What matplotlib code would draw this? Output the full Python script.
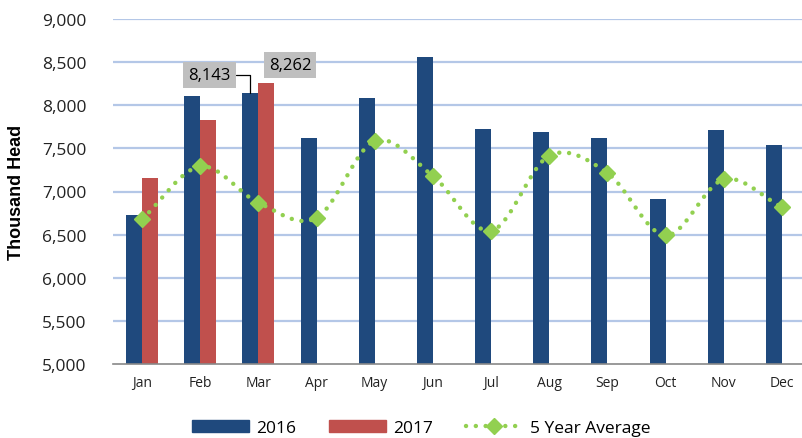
import numpy as np
import matplotlib
matplotlib.use("Agg")
import matplotlib.pyplot as plt
from matplotlib.patches import Patch
from matplotlib.lines import Line2D

months = ["Jan", "Feb", "Mar", "Apr", "May", "Jun", "Jul", "Aug", "Sep", "Oct", "Nov", "Dec"]
v2016 = [6730, 8110, 8143, 7620, 8085, 8560, 7725, 7690, 7620, 6915, 7715, 7540]
v2017 = [7160, 7830, 8262]
avg5 = [6680, 7290, 6870, 6695, 7585, 7180, 6545, 7415, 7215, 6490, 7140, 6820]
yticks = [5000, 5500, 6000, 6500, 7000, 7500, 8000, 8500, 9000]

BLUE = "#1F497D"
RED = "#C0504D"
GREEN = "#92D050"
GRID = "#B4C7E7"

plt.rcParams['font.family'] = ['Open Sans', 'DejaVu Sans']

fig = plt.figure(figsize=(8.02, 4.39), dpi=100)
ax = fig.add_axes([113/802, 1-365/439, 698/802, 345/439])

x = np.arange(len(months))
w = 0.275
ax.bar(x - w/2, v2016, width=w, color=BLUE, zorder=2)
x17 = np.arange(len(v2017))
ax.bar(x17 + w/2, v2017, width=w, color=RED, zorder=2)

# smoothed line (Catmull-Rom through the data points, rendering only)
def catmull(xs, ys, n=30):
    xs = np.asarray(xs, float); ys = np.asarray(ys, float)
    px = np.concatenate([[2*xs[0]-xs[1]], xs, [2*xs[-1]-xs[-2]]])
    py = np.concatenate([[2*ys[0]-ys[1]], ys, [2*ys[-1]-ys[-2]]])
    ox, oy = [], []
    for i in range(1, len(px)-2):
        t = np.linspace(0, 1, n, endpoint=False)
        for p, o in ((px, ox), (py, oy)):
            p0, p1, p2, p3 = p[i-1], p[i], p[i+1], p[i+2]
            o.extend(0.5*((2*p1) + (-p0+p2)*t + (2*p0-5*p1+4*p2-p3)*t**2 + (-p0+3*p1-3*p2+p3)*t**3))
    ox.append(xs[-1]); oy.append(ys[-1])
    return np.array(ox), np.array(oy)

sx, sy = catmull(x, avg5)
ax.plot(sx, sy, color=GREEN, lw=3.2, linestyle=(0, (0.01, 2.2)), dash_capstyle='round', zorder=3)
ax.plot(x, avg5, linestyle='none', marker='D', markersize=8, color=GREEN, zorder=4)

ax.set_xlim(-0.5, len(months)-0.5)
ax.set_ylim(5000, 9000)
ax.set_yticks(yticks)
ax.set_yticklabels([f"{t:,}" for t in yticks], fontsize=12.5, color="#222222")
ax.set_xticks(x)
ax.set_xticklabels(months, fontsize=10, color="#222222")
ax.tick_params(axis='both', length=0)
ax.tick_params(axis='y', pad=19)
ax.tick_params(axis='x', pad=8)
for t in yticks[1:]:
    ax.axhline(t, color=GRID, lw=1.6, zorder=1)
for s in ['left', 'right', 'top']:
    ax.spines[s].set_visible(False)
ax.spines['bottom'].set_color('#888888')
ax.spines['bottom'].set_linewidth(1.2)

ax.set_ylabel("Thousand Head", fontsize=13, fontweight='bold', family=['Liberation Sans', 'DejaVu Sans'])
ax.yaxis.set_label_coords(-0.126, 0.5)

bbox = dict(boxstyle='square,pad=0.3', fc='#BFBFBF', ec='none')
ax.annotate(f"{v2016[2]:,}", xy=(2 - w/2, v2016[2]), xytext=(-29.5, 13), textcoords='offset points',
            ha='center', va='center', fontsize=12, bbox=bbox,
            arrowprops=dict(arrowstyle='-', color='black', lw=0.9,
                            connectionstyle='angle,angleA=0,angleB=90,rad=0', shrinkA=0, shrinkB=0))
ax.annotate(f"{v2017[2]:,}", xy=(2 + w/2, v2017[2]), xytext=(17, 13), textcoords='offset points',
            ha='center', va='center', fontsize=12, bbox=bbox)

handles = [Patch(color=BLUE), Patch(color=RED),
           Line2D([], [], color=GREEN, lw=3.2, linestyle=(0, (0.01, 2.2)), dash_capstyle='round',
                  marker='D', markersize=8)]
fig.legend(handles, ["2016", "2017", "5 Year Average"], loc='center', bbox_to_anchor=(0.525, 0.022),
           ncol=3, frameon=False, fontsize=12.5, handlelength=3.3, handleheight=0.7,
           handletextpad=0.4, columnspacing=1.9, borderpad=0.2)

fig.savefig("out.png", dpi=100)
